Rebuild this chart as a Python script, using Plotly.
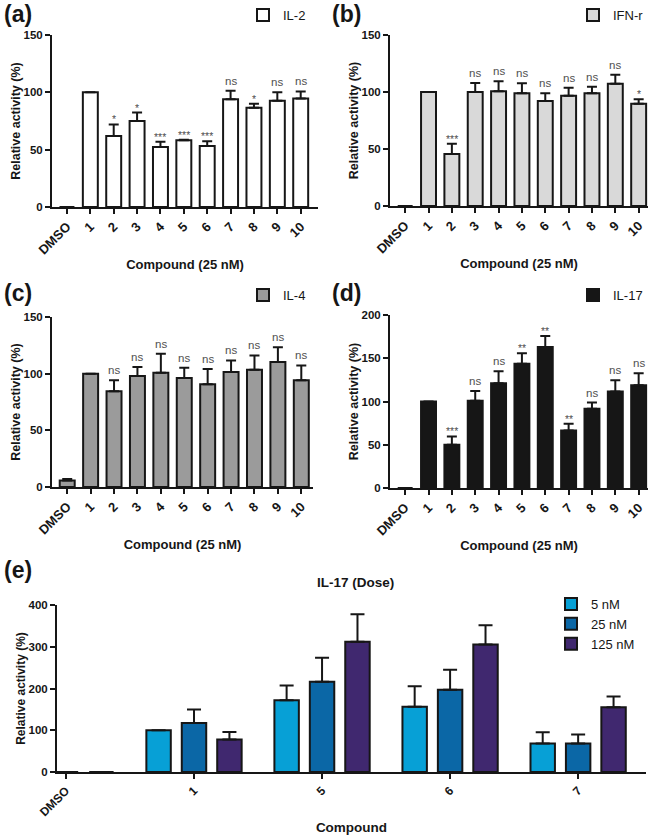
import plotly.graph_objects as go

# ---------------- data ----------------
categories = ["DMSO", "1", "2", "3", "4", "5", "6", "7", "8", "9", "10"]

il2_mean = [0, 100, 62, 75, 52.4, 58.3, 53.3, 94, 86.5, 92.6, 94.7]
il2_err = [0, 0, 10, 7.4, 4.6, 0.3, 4.1, 7.4, 3.5, 7.4, 6.1]
il2_sig = ["", "", "*", "*", "***", "***", "***", "ns", "*", "ns", "ns"]

ifn_mean = [0, 100, 45.6, 100, 100.6, 98.8, 92.1, 96.8, 98.8, 107.3, 89.8]
ifn_err = [0, 0, 9.1, 7.9, 8.8, 8.8, 6.7, 7.0, 5.9, 7.9, 3.8]
ifn_sig = ["", "", "***", "ns", "ns", "ns", "ns", "ns", "ns", "ns", "*"]

il4_mean = [5.8, 100, 84.5, 98, 100.9, 96.2, 90.6, 101.5, 103.5, 110.2, 94.2]
il4_err = [1.2, 0, 9.7, 7.8, 16.6, 9.1, 13.5, 10.2, 12.6, 13.2, 13.1]
il4_sig = ["", "", "ns", "ns", "ns", "ns", "ns", "ns", "ns", "ns", "ns"]

il17_mean = [0, 100, 50, 101, 121, 143.5, 163, 66.5, 91.5, 111.5, 118.8]
il17_err = [0, 0, 9.6, 11, 14, 12.3, 12.8, 7.7, 7.3, 13.1, 13.9]
il17_sig = ["", "", "***", "ns", "ns", "**", "**", "**", "ns", "ns", "ns"]

dose_categories = ["DMSO", "1", "5", "6", "7"]
dose_names = ["5 nM", "25 nM", "125 nM"]
dose_5_mean = [0, 100, 172, 156, 68]
dose_5_err = [0, 0, 35, 49.6, 27.2]
dose_25_mean = [0, 117.6, 216, 196.8, 68]
dose_25_err = [0, 32, 57.6, 48, 21.6]
dose_125_mean = [0, 77.6, 312, 305.6, 155.2]
dose_125_err = [0, 18.4, 65.6, 45.6, 25.6]

# ---------------- styling ----------------
W, H = 659, 835
FONT = "Liberation Sans, Arial, sans-serif"
INK = "#161616"
SIG_COLOR = "#505050"


def fx(px):
    return px / W


def fy(px):
    return 1 - px / H


panels = [
    dict(label="(a)", name="IL-2", mean=il2_mean, err=il2_err, sig=il2_sig,
         fill="#ffffff", xdom=(52, 318), ydom=(35, 207), yr=(0, 150), dt=50,
         xr=(-0.64, 10.74), lab=(2, 14), leg=(243, 15)),
    dict(label="(b)", name="IFN-r", mean=ifn_mean, err=ifn_err, sig=ifn_sig,
         fill="#d9d9d9", xdom=(390, 648), ydom=(35, 206), yr=(0, 150), dt=50,
         xr=(-0.65, 10.4), lab=(330, 14), leg=(573, 15)),
    dict(label="(c)", name="IL-4", mean=il4_mean, err=il4_err, sig=il4_sig,
         fill="#9b9b9b", xdom=(52, 313), ydom=(317, 487), yr=(0, 150), dt=50,
         xr=(-0.65, 10.5), lab=(2, 293), leg=(243, 295)),
    dict(label="(d)", name="IL-17", mean=il17_mean, err=il17_err, sig=il17_sig,
         fill="#161616", xdom=(390, 648), ydom=(315, 488), yr=(0, 200), dt=50,
         xr=(-0.65, 10.4), lab=(330, 293), leg=(573, 295)),
]

fig = go.Figure()
annotations = []
layout_axes = {}

ytickfont = dict(family=FONT, size=11.5, color=INK, weight="bold")
xtickfont = dict(family=FONT, size=13, color=INK, weight="bold")
titlefont = dict(family=FONT, size=12.5, color=INK, weight="bold")


def axis_style(**kw):
    d = dict(showline=True, linecolor=INK, linewidth=2, ticks="outside",
             ticklen=5, tickwidth=2, tickcolor=INK, showgrid=False,
             zeroline=False, tickfont=ytickfont, fixedrange=True,
             automargin=False)
    d.update(kw)
    return d


for i, p in enumerate(panels):
    n = i + 1
    xid = "x" if n == 1 else f"x{n}"
    yid = "y" if n == 1 else f"y{n}"
    legid = "legend" if n == 1 else f"legend{n}"
    fig.add_trace(go.Bar(
        x=categories, y=p["mean"], name=p["name"], width=0.64,
        marker=dict(color=p["fill"], line=dict(color=INK, width=2)),
        error_y=dict(type="data", symmetric=False, array=p["err"],
                     arrayminus=[0] * len(p["err"]), color=INK,
                     thickness=2, width=5),
        xaxis=xid, yaxis=yid, legend=legid, showlegend=True,
    ))
    xkey = "xaxis" if n == 1 else f"xaxis{n}"
    ykey = "yaxis" if n == 1 else f"yaxis{n}"
    layout_axes[xkey] = axis_style(
        domain=[fx(p["xdom"][0]), fx(p["xdom"][1])], anchor=yid,
        type="category", range=list(p["xr"]), tickangle=-45, tickfont=xtickfont,
        title=dict(text="Compound (25 nM)", standoff=4,
                   font=dict(family=FONT, size=13, color=INK, weight="bold")))
    layout_axes[ykey] = axis_style(
        domain=[fy(p["ydom"][1]), fy(p["ydom"][0])], anchor=xid,
        range=list(p["yr"]), dtick=p["dt"], tick0=0,
        title=dict(text="Relative activity (%)", standoff=0, font=titlefont))
    layout_axes[legid] = dict(
        x=fx(p["leg"][0]), y=fy(p["leg"][1]), xanchor="left", yanchor="middle",
        bgcolor="rgba(0,0,0,0)", font=dict(family=FONT, size=13, color=INK))
    # panel label
    annotations.append(dict(
        text=f"<b>{p['label']}</b>", xref="paper", yref="paper",
        x=fx(p["lab"][0]), y=fy(p["lab"][1]), xanchor="left", yanchor="middle",
        showarrow=False, font=dict(family=FONT, size=23, color=INK)))
    # significance marks
    for c, m, e, s in zip(categories, p["mean"], p["err"], p["sig"]):
        if not s:
            continue
        star = s.startswith("*")
        annotations.append(dict(
            text=s, xref=xid, yref=yid, x=c, y=m + e,
            xanchor="center", yanchor="bottom", showarrow=False,
            yshift=-3 if star else 2,
            font=dict(family=FONT, size=10.5 if star else 11.5, color=SIG_COLOR)))

# ---------------- panel (e) ----------------
dose_means = [dose_5_mean, dose_25_mean, dose_125_mean]
dose_errs = [dose_5_err, dose_25_err, dose_125_err]
dose_colors = ["#07a0d6", "#0b67a6", "#40286f"]
for nm, m, e, col in zip(dose_names, dose_means, dose_errs, dose_colors):
    fig.add_trace(go.Bar(
        x=dose_categories, y=m, name=nm,
        marker=dict(color=col, line=dict(color=INK, width=2)),
        error_y=dict(type="data", symmetric=False, array=e,
                     arrayminus=[0] * len(e), color=INK, thickness=2, width=7),
        xaxis="x5", yaxis="y5", legend="legend5", showlegend=True,
    ))

layout_axes["xaxis5"] = axis_style(
    domain=[fx(57), fx(646)], anchor="y5", type="category",
    range=[-0.07, 4.53], tickangle=-45,
    tickfont=dict(family=FONT, size=12, color=INK, weight="bold"),
    title=dict(text="Compound", standoff=4,
               font=dict(family=FONT, size=13.5, color=INK, weight="bold")))
layout_axes["yaxis5"] = axis_style(
    domain=[fy(772), fy(605)], anchor="x5", range=[0, 400], dtick=100, tick0=0,
    title=dict(text="Relative activity (%)", standoff=0,
               font=dict(family=FONT, size=12, color=INK, weight="bold")))
layout_axes["legend5"] = dict(
    x=fx(551), y=fy(624), xanchor="left", yanchor="middle",
    bgcolor="rgba(0,0,0,0)", font=dict(family=FONT, size=13, color=INK))

annotations.append(dict(
    text="<b>(e)</b>", xref="paper", yref="paper", x=fx(2), y=fy(570),
    xanchor="left", yanchor="middle", showarrow=False,
    font=dict(family=FONT, size=23, color=INK)))
annotations.append(dict(
    text="<b>IL-17 (Dose)</b>", xref="paper", yref="paper", x=fx(355), y=fy(582),
    xanchor="center", yanchor="middle", showarrow=False,
    font=dict(family=FONT, size=13.5, color=INK)))

fig.update_layout(
    width=W, height=H,
    margin=dict(l=0, r=0, t=0, b=0, pad=0, autoexpand=False),
    paper_bgcolor="white", plot_bgcolor="white",
    barmode="group", bargap=0.17, bargroupgap=0.31,
    font=dict(family=FONT, color=INK),
    annotations=annotations,
    **layout_axes,
)

fig.write_html(
    "out.html",
    config={"displayModeBar": False},
    post_script="document.body.style.margin='0';document.body.style.overflow='hidden';",
)
